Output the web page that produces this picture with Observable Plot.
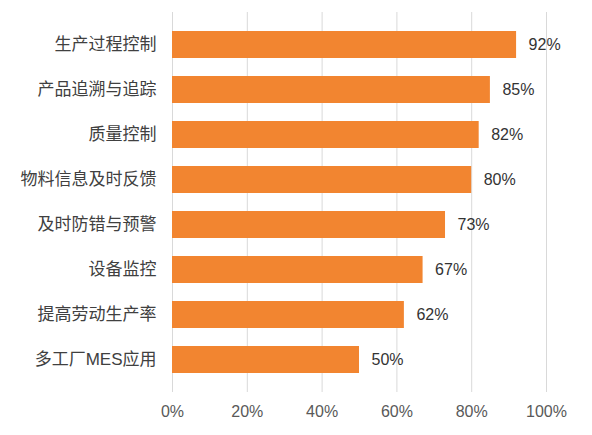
<!DOCTYPE html>
<html>
<head>
<meta charset="utf-8">
<script src="https://cdn.jsdelivr.net/npm/d3@7"></script>
<script src="https://cdn.jsdelivr.net/npm/@observablehq/plot@0.6"></script>
<style>
  html, body { margin: 0; padding: 0; background: #ffffff; }
  #chart { width: 592px; height: 435px; }
</style>
</head>
<body>
<div id="chart"></div>
<script>
const categories = ["生产过程控制", "产品追溯与追踪", "质量控制", "物料信息及时反馈", "及时防错与预警", "设备监控", "提高劳动生产率", "多工厂MES应用"];
const values = [0.92, 0.85, 0.82, 0.80, 0.73, 0.67, 0.62, 0.50];
const xTicks = [0, 0.2, 0.4, 0.6, 0.8, 1.0];

const data = categories.map((c, i) => ({category: c, value: values[i]}));
const font = "'Liberation Sans', Arial, 'Noto Sans CJK SC', sans-serif";

const chart = Plot.plot({
  width: 592,
  height: 435,
  marginLeft: 172,
  marginRight: 46,
  marginTop: 12,
  marginBottom: 43,
  style: {fontFamily: font, background: "#ffffff"},
  x: {domain: [0, 1], ticks: xTicks, tickFormat: d3.format(".0%")},
  y: {domain: categories, padding: 0.39},
  marks: [
    Plot.gridX(xTicks, {stroke: "#d9d9d9", strokeOpacity: 1, strokeWidth: 1}),
    Plot.barX(data, {x: "value", y: "category", fill: "#F28530"}),
    Plot.text(data, {x: "value", y: "category", text: d => d3.format(".0%")(d.value), textAnchor: "start", dx: 12, fontSize: 16, fill: "#333333"}),
    Plot.axisX({ticks: xTicks, tickFormat: d3.format(".0%"), tickSize: 0, tickPadding: 13, fontSize: 16, fill: "#595959", label: null}),
    Plot.axisY({tickSize: 0, tickPadding: 16, fontSize: 17, fill: "#404040", label: null})
  ]
});
document.getElementById("chart").appendChild(chart);
</script>
</body>
</html>
